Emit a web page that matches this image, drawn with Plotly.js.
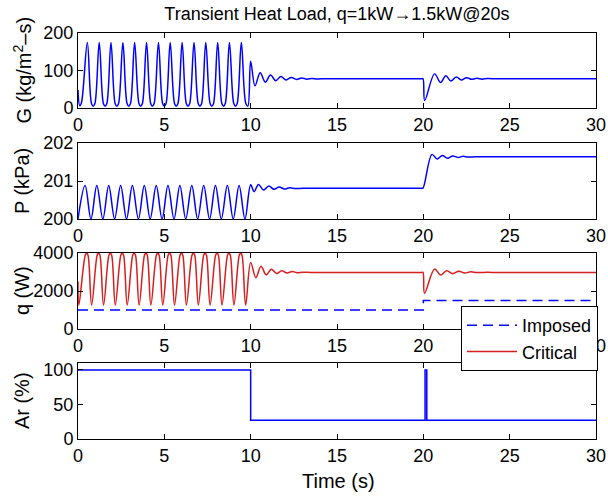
<!DOCTYPE html>
<html>
<head>
<meta charset="utf-8">
<script src="https://cdn.plot.ly/plotly-3.0.1.min.js"></script>
<style>html,body{margin:0;padding:0;background:#fff;}#chart{width:608px;height:496px;}</style>
</head>
<body>
<div id="chart"></div>
<script>
// ---- Data ----
const chartTitle = "Transient Heat Load, q=1kW\u21921.5kW@20s";
const xTitle = "Time (s)";
const yTitles = ["G (kg/m<sup>2</sup>\u2013s)", "P (kPa)", "q (W)", "Ar (%)"];
const xTicks = [0, 5, 10, 15, 20, 25, 30];

// Mass flux G (kg/m^2-s)
const G_t = [0, 0.1, 0.2, 0.54,
  0.78, 0.88, 0.98, 1.23, 1.47, 1.57, 1.67, 1.91, 2.15, 2.25, 2.35, 2.60, 2.84, 2.94, 3.04, 3.28,
  3.53, 3.63, 3.73, 3.97, 4.21, 4.31, 4.41, 4.66, 4.90, 5.00, 5.10, 5.34, 5.59, 5.69, 5.79, 6.03,
  6.27, 6.37, 6.47, 6.72, 6.96, 7.06, 7.16, 7.40, 7.65, 7.75, 7.85, 8.09, 8.33, 8.43, 8.53, 8.77,
  9.02, 9.12, 9.22, 9.46, 9.72, 9.84,
  10.0, 10.25, 10.55, 10.85, 11.15, 11.45, 11.75, 12.05, 12.35, 12.65, 12.95, 13.25, 13.55, 13.85, 14.3, 14.8,
  19.5, 19.9, 19.98, 20.08, 20.65, 21.0, 21.3, 21.6, 21.9, 22.2, 22.5, 22.8, 23.1, 23.4, 23.7, 24.2, 24.7, 30];
const G_v = [48, 6, 14, 175,
  12, 5, 12, 175, 12, 5, 12, 175, 12, 5, 12, 175, 12, 5, 12, 175,
  12, 5, 12, 175, 12, 5, 12, 175, 12, 5, 12, 175, 12, 5, 12, 175,
  12, 5, 12, 175, 12, 5, 12, 175, 12, 5, 12, 175, 12, 5, 12, 175,
  12, 5, 12, 175, 12, 5,
  125, 59, 94, 69, 88, 73, 84, 75, 81.5, 76, 80, 77, 79, 77.5, 78, 78,
  78, 78, 78, 20, 91, 68, 86, 72, 83, 75, 81, 76.5, 79.5, 77, 78.5, 78, 78, 78];

// Pressure P (kPa)
const P_t = [0, 0.41, 0.75, 1.09, 1.44, 1.78, 2.12, 2.47, 2.81, 3.15, 3.50, 3.84, 4.18, 4.53, 4.87, 5.21, 5.56, 5.90, 6.24, 6.59, 6.93, 7.28, 7.62, 7.96, 8.30, 8.65, 8.99, 9.33, 9.67, 10.0,
  10.2, 10.45, 10.75, 11.05, 11.35, 11.65, 11.95, 12.25, 12.6, 13.0, 13.5, 19.5, 19.9, 19.98,
  20.5, 20.8, 21.1, 21.4, 21.7, 22.0, 22.3, 22.6, 23.0, 23.5, 30];
const P_v = [200.0, 200.88, 200.0, 200.88, 200.0, 200.88, 200.0, 200.88, 200.0, 200.88, 200.0, 200.88, 200.0, 200.88, 200.0, 200.88, 200.0, 200.88, 200.0, 200.88, 200.0, 200.88, 200.0, 200.88, 200.0, 200.88, 200.0, 200.88, 200.0, 200.9,
  200.72, 200.91, 200.76, 200.87, 200.78, 200.84, 200.79, 200.82, 200.80, 200.81, 200.81, 200.81, 200.81, 200.81,
  201.70, 201.58, 201.67, 201.60, 201.66, 201.62, 201.65, 201.63, 201.64, 201.64, 201.64];

// Heat load q (W): critical and imposed
const qc_t = [0, 0.05,
  0.42, 0.50, 0.58, 0.79, 1.11, 1.19, 1.27, 1.48, 1.79, 1.87, 1.95, 2.16, 2.48, 2.56, 2.64, 2.85,
  3.17, 3.25, 3.33, 3.54, 3.85, 3.93, 4.01, 4.22, 4.54, 4.62, 4.70, 4.91, 5.22, 5.30, 5.38, 5.59,
  5.91, 5.99, 6.07, 6.28, 6.60, 6.68, 6.76, 6.97, 7.28, 7.36, 7.44, 7.65, 7.97, 8.05, 8.13, 8.34,
  8.66, 8.74, 8.82, 9.03, 9.34, 9.42, 9.50, 9.71,
  10.0, 10.3, 10.6, 10.9, 11.2, 11.5, 11.8, 12.1, 12.4, 12.7, 13.0, 13.5, 14.0, 19.5, 19.9, 19.98,
  20.07, 20.65, 21.0, 21.35, 21.7, 22.05, 22.4, 22.75, 23.1, 23.5, 24.0, 30];
const qc_v = [2500, 1260,
  3880, 3990, 3880, 1260, 3880, 3990, 3880, 1260, 3880, 3990, 3880, 1260, 3880, 3990, 3880, 1260,
  3880, 3990, 3880, 1260, 3880, 3990, 3880, 1260, 3880, 3990, 3880, 1260, 3880, 3990, 3880, 1260,
  3880, 3990, 3880, 1260, 3880, 3990, 3880, 1260, 3880, 3990, 3880, 1260, 3880, 3990, 3880, 1260,
  3880, 3990, 3880, 1260, 3880, 3990, 3880, 1260,
  3500, 2700, 3300, 2850, 3150, 2920, 3070, 2950, 3020, 2965, 2990, 2980, 2980, 2980, 2980, 2980,
  1880, 3160, 2840, 3070, 2910, 3040, 2950, 3010, 2970, 2980, 2980, 2980];
const qi_t = [0, 20, 20, 30];
const qi_v = [1000, 1000, 1500, 1500];

// Ar (%)
const Ar_t = [0, 10, 10, 20.1, 20.1, 20.2, 20.2, 30];
const Ar_v = [100, 100, 27, 27, 100, 100, 27, 27];

const legendNames = ["Imposed", "Critical"];

// ---- Styling / layout ----
const BLUE = "#0000ff", RED = "#d81e1e";
const W = 608, H = 496, L = 78, R = 11, T = 33, B = 57;
const pw = W - L - R, ph = H - T - B;
const py = y => (H - B - y) / ph;   // pixel row -> paper y
const px = x => (x - L) / pw;       // pixel col -> paper x
const panels = [[33, 108], [143, 219], [253, 329], [363, 439]];

const traces = [
  {x: G_t, y: G_v, xaxis: "x", yaxis: "y", mode: "lines", line: {color: BLUE, width: 1.5, shape: "spline", smoothing: 1}, showlegend: false},
  {x: P_t, y: P_v, xaxis: "x2", yaxis: "y2", mode: "lines", line: {color: BLUE, width: 1.5, shape: "spline", smoothing: 1}, showlegend: false},
  {x: qi_t, y: qi_v, xaxis: "x3", yaxis: "y3", mode: "lines", name: legendNames[0], line: {color: BLUE, width: 1.5, dash: "10px,6px"}},
  {x: qc_t, y: qc_v, xaxis: "x3", yaxis: "y3", mode: "lines", name: legendNames[1], line: {color: RED, width: 1.5, shape: "spline", smoothing: 1}},
  {x: Ar_t, y: Ar_v, xaxis: "x4", yaxis: "y4", mode: "lines", line: {color: BLUE, width: 1.5}, showlegend: false}
];

function xax(anchor) {
  return {anchor: anchor, domain: [0, 1], range: [0, 30], tickvals: xTicks, ticktext: xTicks.map(String),
    showline: true, linecolor: "#000", linewidth: 1, mirror: "ticks", ticks: "inside", ticklen: 5, tickcolor: "#000",
    showgrid: false, zeroline: false, tickfont: {size: 18}};
}
function yax(anchor, i, range, tv) {
  return {anchor: anchor, domain: [py(panels[i][1]), py(panels[i][0])], range: range, tickvals: tv, ticktext: tv.map(String),
    showline: true, linecolor: "#000", linewidth: 1, mirror: "ticks", ticks: "inside", ticklen: 5, tickcolor: "#000",
    showgrid: false, zeroline: false, tickfont: {size: 18}};
}

const annotations = [
  {text: xTitle, xref: "paper", yref: "paper", x: px(339), y: py(481), xanchor: "center", yanchor: "middle", showarrow: false, font: {size: 20}}
];
panels.forEach((p, i) => {
  annotations.push({text: yTitles[i], xref: "paper", yref: "paper", x: px(22), y: py((p[0] + p[1]) / 2),
    xanchor: "center", yanchor: "middle", textangle: -90, showarrow: false, font: {size: 20}});
});

const layout = {
  width: W, height: H,
  margin: {l: L, r: R, t: T, b: B, pad: 0},
  paper_bgcolor: "#fff", plot_bgcolor: "#fff",
  font: {family: "Liberation Sans, Arial, sans-serif", size: 18, color: "#000"},
  title: {text: chartTitle, font: {size: 18}, xref: "paper", x: 0.5, xanchor: "center", yref: "container", y: 1 - 14 / H, yanchor: "middle"},
  xaxis: xax("y"), xaxis2: xax("y2"), xaxis3: xax("y3"), xaxis4: xax("y4"),
  yaxis: yax("x", 0, [0, 200], [0, 100, 200]),
  yaxis2: yax("x2", 1, [200, 202], [200, 201, 202]),
  yaxis3: yax("x3", 2, [0, 4000], [0, 2000, 4000]),
  yaxis4: yax("x4", 3, [0, 110], [0, 50, 100]),
  showlegend: true,
  legend: {x: px(598), y: py(306), xanchor: "right", yanchor: "top", bgcolor: "#fff", bordercolor: "#000", borderwidth: 1,
    font: {size: 18}, itemwidth: 50, tracegroupgap: 0},
  annotations: annotations
};

Plotly.newPlot("chart", traces, layout, {displayModeBar: false, staticPlot: true});
</script>
</body>
</html>
